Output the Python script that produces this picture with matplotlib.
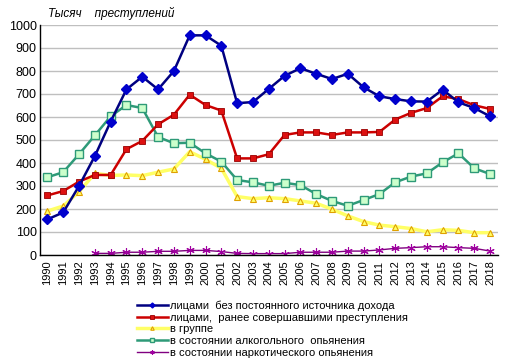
import numpy as np
import matplotlib.pyplot as plt

plt.rcParams["font.family"] = ["Liberation Sans", "DejaVu Sans"]

years = list(range(1990, 2019))

no_income = [155, 185, 300, 430, 580, 720, 775, 720, 800, 955, 955, 910, 660, 665,
             722, 779, 812, 788, 765, 788, 729, 690, 678, 668, 667, 719, 664, 639, 603]
repeat = [259, 278, 319, 348, 348, 460, 496, 568, 610, 697, 652, 628, 420, 420,
          438, 522, 533, 533, 522, 533, 533, 535, 589, 618, 639, 690, 678, 651, 635]
group = [191, 213, 275, 355, 346, 348, 345, 360, 374, 449, 416, 377, 254, 245,
         249, 245, 235, 225, 199, 170, 145, 130, 123, 115, 101, 110, 107, 97, 97]
alcohol = [338, 360, 438, 520, 603, 652, 639, 513, 486, 488, 442, 406, 326, 316,
           301, 314, 304, 265, 235, 214, 239, 265, 316, 341, 355, 403, 442, 377, 352]
drugs = [np.nan, np.nan, np.nan, 7, 7, 12, 12, 16, 16, 20, 20, 15, 7, 6,
         6, 6, 12, 12, 12, 17, 17, 22, 29, 32, 36, 36, 32, 29, 17]

labels = ["лицами  без постоянного источника дохода",
          "лицами,  ранее совершавшими преступления",
          "в группе",
          "в состоянии алкогольного  опьянения",
          "в состоянии наркотического опьянения"]

fig = plt.figure(figsize=(5.12, 3.63), dpi=100)
ax = fig.add_axes([39.5 / 512, 1 - 255 / 363, 458.5 / 512, 230 / 363])

x = np.arange(len(years))
ax.plot(x, no_income, color="#000080", lw=1.8, marker="D", ms=5,
        mfc="#0000CC", mec="#0000CC", label=labels[0], zorder=5)
ax.plot(x, repeat, color="#CC0000", lw=1.8, marker="s", ms=5,
        mfc="#DD1111", mec="#990000", mew=0.6, label=labels[1], zorder=4)
ax.plot(x, group, color="#FFFF66", lw=2.5, marker="^", ms=5,
        mfc="#FFFF66", mec="#E0A000", mew=0.8, label=labels[2], zorder=3)
ax.plot(x, alcohol, color="#2E9A78", lw=1.8, marker="s", ms=5.5,
        mfc="#CCFFCC", mec="#2E9A78", mew=1.0, label=labels[3], zorder=3)
ax.plot(x, drugs, color="#800080", lw=1.0, marker=(6, 2, 0), ms=6,
        mfc="#A000A0", mec="#A000A0", mew=0.8, label=labels[4], zorder=2)

ax.set_xlim(-0.5, len(years) - 0.5)
ax.set_ylim(0, 1000)
ax.set_yticks(range(0, 1001, 100))
ax.set_xticks(x)
ax.set_xticklabels([str(y) for y in years], rotation=90, fontsize=8)
ax.tick_params(axis="y", labelsize=9, length=0, pad=2)
ax.tick_params(axis="x", length=0, pad=4)
ax.yaxis.grid(True, color="#BFBFBF", lw=1.0)
ax.set_axisbelow(True)
for s in ["top", "right"]:
    ax.spines[s].set_visible(False)
ax.spines["left"].set_linewidth(1.0)
ax.spines["bottom"].set_linewidth(1.0)

fig.text(48 / 512, 1 - 13 / 363, "Тысяч    преступлений", fontsize=8.5,
         style="italic", va="center", ha="left")

ax.legend(loc="upper left", bbox_to_anchor=(131 / 512, 1 - 295 / 363),
          bbox_transform=fig.transFigure, frameon=False, fontsize=8,
          handlelength=2.8, handletextpad=0.25, labelspacing=0.15,
          borderpad=0, markerscale=0.5)

fig.savefig("out.png", dpi=100)
